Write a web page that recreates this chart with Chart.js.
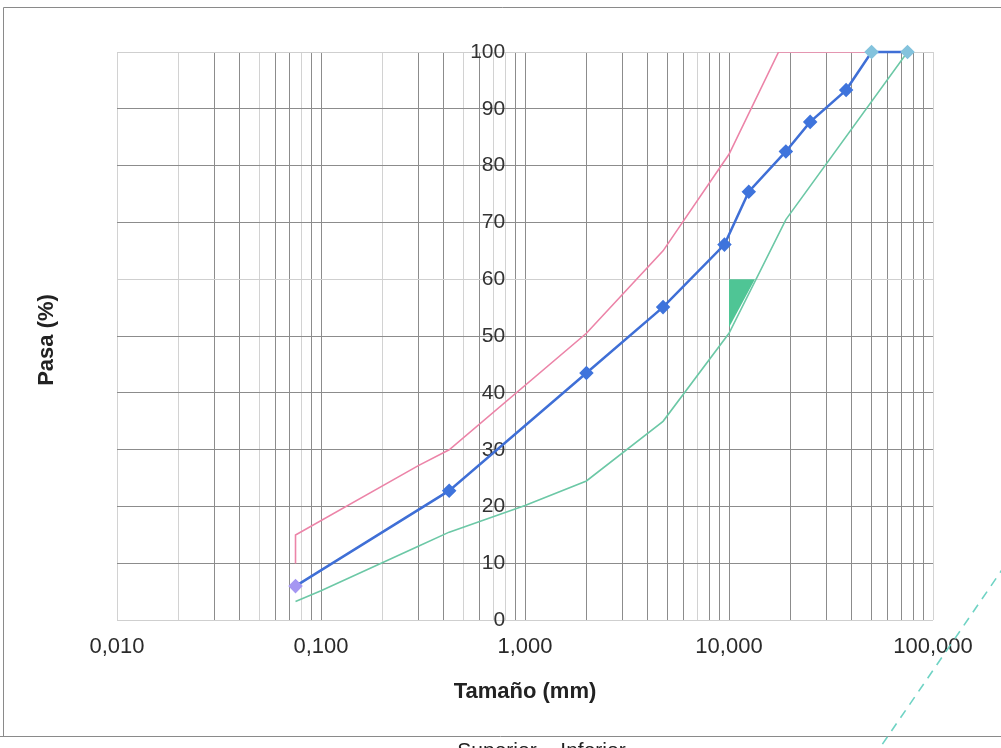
<!DOCTYPE html>
<html lang="es">
<head>
<meta charset="UTF-8">
<title>Curva granulométrica</title>
<script src="https://cdn.jsdelivr.net/npm/chart.js@4.4.1/dist/chart.umd.min.js"></script>
<style>
  html, body { margin: 0; padding: 0; background: #fff; }
  canvas { display: block; }
</style>
</head>
<body>
<canvas id="chart" width="1001" height="748"></canvas>
<script>
// muestra ensayada: tamiz (mm) y % que pasa
const sieveSizes = [0.075, 0.425, 2, 4.75, 9.5, 12.5, 19, 25, 37.5, 50, 75];
const passing    = [6, 22.8, 43.5, 55.1, 66.1, 75.4, 82.5, 87.7, 93.3, 100, 100];

// banda granulométrica
const upperSizes = [0.075, 0.075, 0.3, 0.425, 2, 4.75, 10, 17.5, 75];
const upperPass  = [10, 15, 27.2, 30, 50.5, 65, 82, 100, 100];
const lowerSizes = [0.075, 0.1, 0.3, 0.425, 1, 2, 4.75, 10, 19, 75];
const lowerPass  = [3.3, 5.2, 13, 15.5, 20.2, 24.5, 35, 50.5, 70.5, 100];

// relleno verde junto a 10 mm
const wedgeSizes = [10, 13.4];
const wedgePass  = [51.5, 60];

// trazo suelto abajo a la derecha (del escaneo)
const strayX = [250, 52];
const strayY = [12, -23.7];

const xDecades    = [0.01, 0.1, 1, 10, 100];
const xTickLabels = ['0,010', '0,100', '1,000', '10,000', '100,000'];
const yTicks      = [0, 10, 20, 30, 40, 50, 60, 70, 80, 90, 100];

const FONT = 'Arial, "Liberation Sans", sans-serif';

const toXY = (xs, ys) => xs.map((x, i) => ({x: x, y: ys[i]}));

// lineas de grilla logaritmica 1..9 por decada
const gridValues = [];
for (let e = -2; e <= 1; e++) {
  for (let m = 1; m <= 9; m++) gridValues.push(parseFloat((m * Math.pow(10, e)).toPrecision(3)));
}
gridValues.push(100);
const lightX = [0.01, 0.02, 0.05, 0.08, 0.2, 0.5, 0.7, 0.8, 7, 100];

const pointColors = sieveSizes.map((s, i) => i === 0 ? '#a597f2' : (s >= 50 ? '#84c3dd' : '#3f74dc'));

const framePlugin = {
  id: 'frame',
  beforeDraw(chart) {
    const c = chart.ctx;
    c.save();
    c.fillStyle = '#fff';
    c.fillRect(0, 0, chart.width, chart.height);
    c.strokeStyle = '#8a8a8a';
    c.lineWidth = 1;
    c.beginPath();
    c.moveTo(3.5, 736.5); c.lineTo(3.5, 7.5); c.lineTo(1001, 7.5);
    c.moveTo(0, 736.5); c.lineTo(1001, 736.5);
    c.stroke();
    c.restore();
  },
  afterDraw(chart) {
    const c = chart.ctx;
    c.save();
    c.fillStyle = '#222';
    c.font = 'bold 22px ' + FONT;
    c.textAlign = 'center';
    c.textBaseline = 'middle';
    c.translate(47, 340);
    c.rotate(-Math.PI / 2);
    c.fillText('Pasa (%)', 0, 0);
    c.restore();

    c.save();
    c.fillStyle = '#222';
    c.font = '21px ' + FONT;
    c.textAlign = 'center';
    c.textBaseline = 'alphabetic';
    c.fillText('Superior', 497, 757);
    c.fillText('Inferior', 593, 757);
    c.restore();
  }
};

new Chart(document.getElementById('chart'), {
  type: 'line',
  data: {
    datasets: [
      {
        label: 'Muestra',
        data: toXY(sieveSizes, passing),
        borderColor: '#3f6fd6',
        borderWidth: 2.5,
        pointStyle: 'rectRot',
        pointRadius: 5.5,
        pointBackgroundColor: pointColors,
        pointBorderColor: pointColors,
        tension: 0,
        clip: 10
      },
      {
        label: 'Superior',
        data: toXY(upperSizes, upperPass),
        borderColor: '#ec84a8',
        borderWidth: 1.6,
        pointRadius: 0
      },
      {
        label: 'Inferior',
        data: toXY(lowerSizes, lowerPass),
        borderColor: '#6cc8a6',
        borderWidth: 1.6,
        pointRadius: 0
      },
      {
        label: 'relleno',
        data: toXY(wedgeSizes, wedgePass),
        borderWidth: 0,
        pointRadius: 0,
        backgroundColor: '#4fc595',
        fill: {value: 60}
      },
      {
        label: 'trazo',
        data: toXY(strayX, strayY),
        borderColor: '#6fd3c4',
        borderWidth: 1.6,
        borderDash: [9, 7],
        pointRadius: 0,
        clip: false
      }
    ]
  },
  options: {
    responsive: false,
    animation: false,
    layout: { padding: { left: 117, right: 68, top: 52, bottom: 43 } },
    plugins: {
      legend: { display: false },
      tooltip: { enabled: false }
    },
    scales: {
      x: {
        type: 'logarithmic',
        min: 0.01,
        max: 100,
        afterBuildTicks: axis => { axis.ticks = gridValues.map(v => ({value: v})); },
        ticks: {
          autoSkip: false,
          maxRotation: 0,
          padding: 14,
          color: '#2a2a2a',
          font: { size: 22, family: FONT },
          callback: v => {
            const i = xDecades.findIndex(d => Math.abs(d - v) < d * 1e-6);
            return i >= 0 ? xTickLabels[i] : '';
          }
        },
        grid: {
          drawTicks: false,
          color: ctx => {
            const v = ctx.tick && ctx.tick.value;
            return lightX.some(d => Math.abs(d - v) < d * 1e-6) ? '#d2d2d2' : '#8c8c8c';
          },
          lineWidth: 1
        },
        border: { display: false },
        title: {
          display: true,
          text: 'Tamaño (mm)',
          color: '#222',
          font: { size: 22, weight: 'bold', family: FONT },
          padding: { top: 4, bottom: 0 }
        }
      },
      y: {
        type: 'linear',
        position: { x: 0.8 },
        min: 0,
        max: 100,
        afterBuildTicks: axis => { axis.ticks = yTicks.map(v => ({value: v})); },
        ticks: {
          color: '#333',
          font: { size: 21, family: FONT }
        },
        grid: {
          drawTicks: false,
          color: ctx => {
            const v = ctx.tick && ctx.tick.value;
            return (v === 0 || v === 60 || v === 100) ? '#cfcfcf' : '#8c8c8c';
          },
          lineWidth: 1
        },
        border: { display: false }
      }
    }
  },
  plugins: [framePlugin]
});
</script>
</body>
</html>
